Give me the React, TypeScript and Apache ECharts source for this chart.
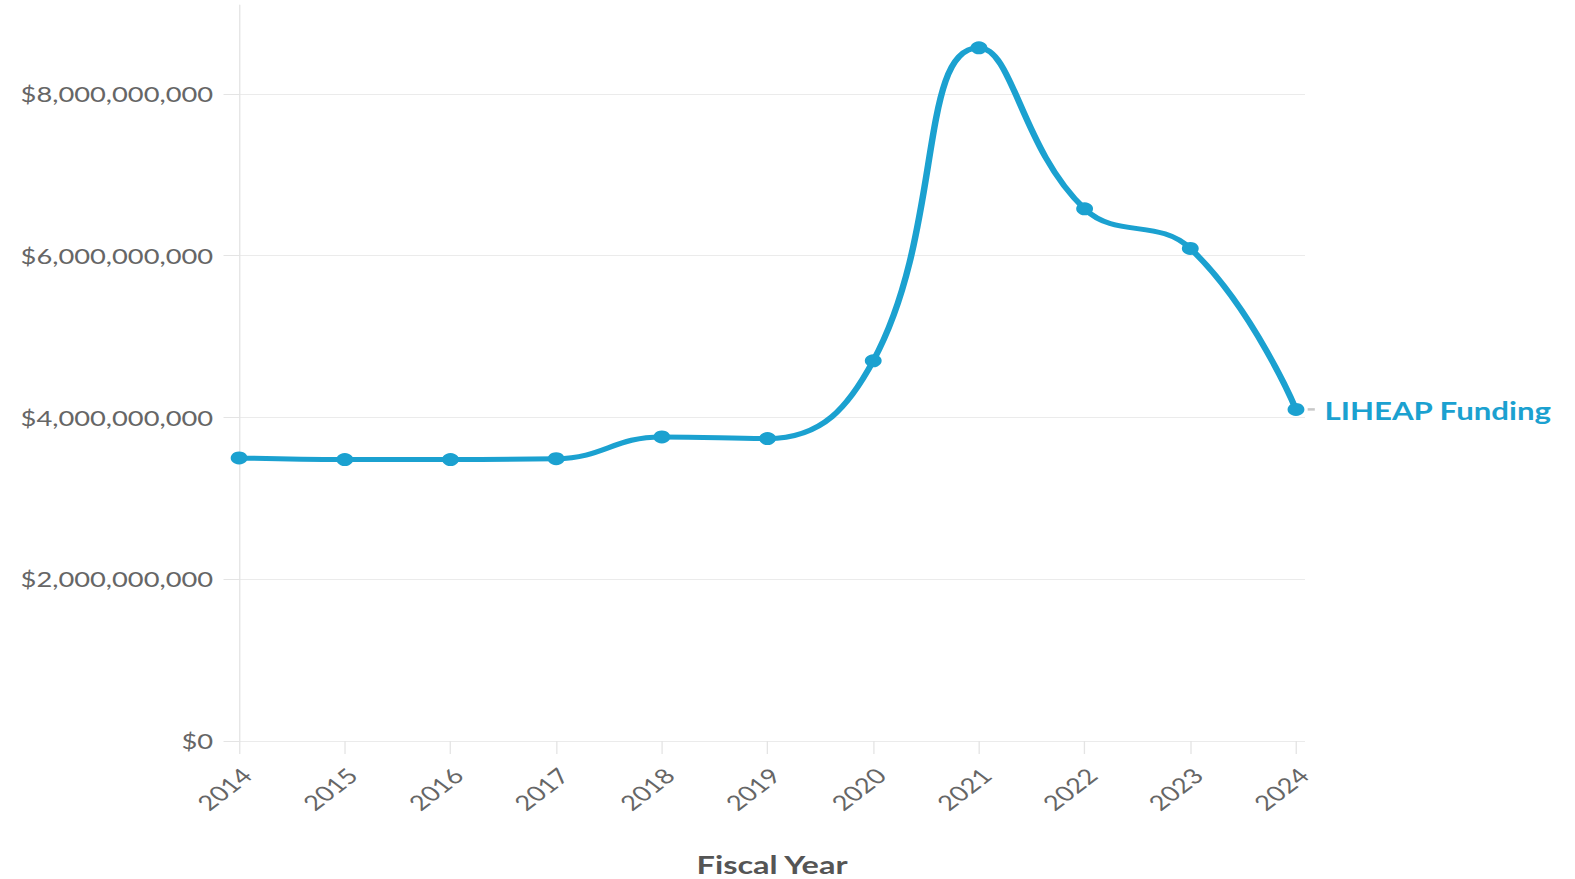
import React, { useEffect, useRef } from "react";
import * as echarts from "echarts";

// ---- data ----
const years: number[] = [2014, 2015, 2016, 2017, 2018, 2019, 2020, 2021, 2022, 2023, 2024];
const funding: number[] = [
  3.5e9, 3.48e9, 3.48e9, 3.49e9, 3.76e9, 3.74e9, 4.7e9, 8.57e9, 6.58e9, 6.09e9, 4.1e9,
];
const yTickValues: number[] = [0, 2e9, 4e9, 6e9, 8e9];
const seriesName = "LIHEAP Funding";
const xAxisTitle = "Fiscal Year";

// ---- layout ----
const W = 1212;
const H = 879;
const STRETCH = 1575 / W;
const FONT = "Lato, 'Open Sans', sans-serif";
const BLUE = "#1ba1d0";

function dollars(v: number): string {
  const s = Math.round(v).toString().replace(/\B(?=(\d{3})+(?!\d))/g, ",");
  return "$" + s;
}

export default function App() {
  const ref = useRef<HTMLDivElement>(null);

  useEffect(() => {
    if (!ref.current) return;
    const chart = echarts.init(ref.current, undefined, { renderer: "svg" });
    const option: any = {
      animation: false,
      grid: {
        left: 184,
        right: 207.8,
        top: 5,
        bottom: 138,
        containLabel: false,
        outerBoundsMode: "none",
      },
      xAxis: {
        type: "value",
        min: 2014,
        max: 2024.085,
        interval: 1,
        axisLine: { show: false },
        axisTick: {
          show: true,
          length: 13,
          customValues: years,
          lineStyle: { color: "#e4e4e4", width: 1 },
        },
        axisLabel: {
          customValues: years,
          rotate: 45,
          margin: 25,
          fontSize: 21,
          lineHeight: 16,
          verticalAlign: "top",
          color: "#666",
          fontFamily: FONT,
          formatter: (v: number) => String(v),
        },
        splitLine: { show: false },
        name: xAxisTitle,
        nameLocation: "middle",
        nameGap: 111,
        nameTextStyle: {
          fontSize: 25,
          lineHeight: 25,
          fontWeight: "bold",
          color: "#555",
          fontFamily: FONT,
        },
      },
      yAxis: {
        type: "value",
        min: 0,
        max: 9.1e9,
        interval: 2e9,
        axisLine: { show: true, lineStyle: { color: "#e4e4e4", width: 1 } },
        axisTick: {
          show: true,
          length: 12,
          customValues: yTickValues,
          lineStyle: { color: "#e4e4e4", width: 1 },
        },
        axisLabel: {
          customValues: yTickValues,
          margin: 20,
          fontSize: 21,
          color: "#666",
          fontFamily: FONT,
          formatter: (v: number) => dollars(v),
        },
        splitLine: { show: true, lineStyle: { color: "#ebebeb", width: 1 } },
      },
      series: [
        {
          type: "line",
          name: seriesName,
          data: years.map((y, i) => [y, funding[i]]),
          smooth: 0.45,
          symbol: "circle",
          symbolSize: 13,
          lineStyle: { width: 5, color: BLUE },
          itemStyle: { color: BLUE },
          endLabel: {
            show: true,
            formatter: "{a}",
            color: BLUE,
            fontWeight: "bold",
            fontSize: 24,
            fontFamily: FONT,
            distance: 22,
            offset: [0, 2],
          },
        },
      ],
    };
    chart.setOption(option);
    const last = years.length - 1;
    const p = chart.convertToPixel({ xAxisIndex: 0, yAxisIndex: 0 }, [years[last], funding[last]]) as number[];
    if (p) {
      chart.setOption({
        graphic: [
          {
            type: "line",
            shape: { x1: p[0] + 9, y1: p[1], x2: p[0] + 14.5, y2: p[1] },
            style: { stroke: "#c8c8c8", lineWidth: 2.5 },
            silent: true,
          },
        ],
      });
    }
    return () => chart.dispose();
  }, []);

  return (
    <div
      style={{
        position: "absolute",
        left: 0,
        top: 0,
        width: 1575,
        height: H,
        overflow: "hidden",
        background: "#fff",
      }}
    >
      <div
        ref={ref}
        style={{
          width: W,
          height: H,
          transform: `scaleX(${STRETCH})`,
          transformOrigin: "0 0",
        }}
      />
    </div>
  );
}
